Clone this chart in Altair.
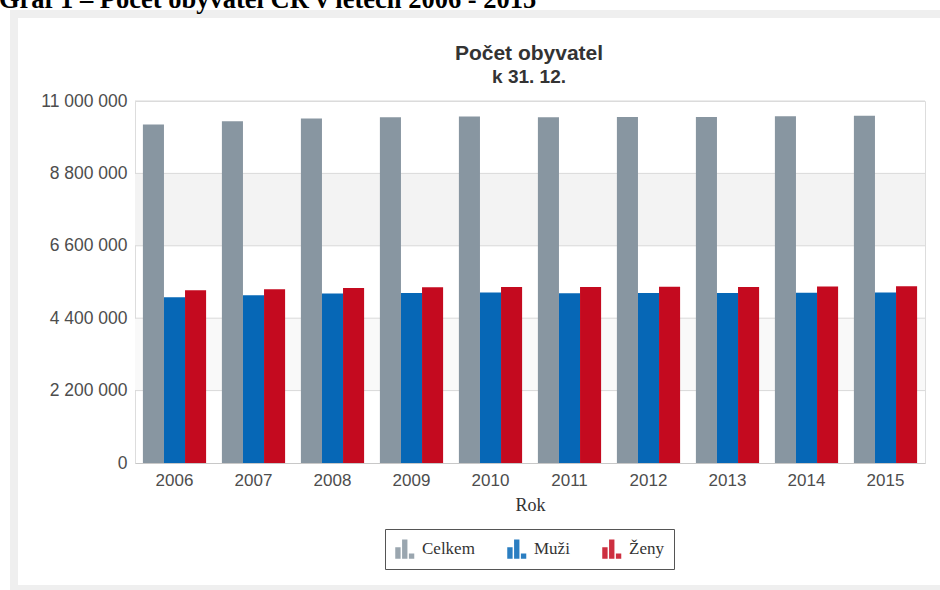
import altair as alt
import pandas as pd

# ---- data -------------------------------------------------------------
years = ["2006", "2007", "2008", "2009", "2010", "2011", "2012", "2013", "2014", "2015"]
celkem = [10287189, 10381130, 10467542, 10506813, 10532770, 10505445, 10516125, 10512419, 10538275, 10553843]
muzi = [5036000, 5100000, 5152000, 5168000, 5184000, 5158000, 5164000, 5162000, 5176000, 5184000]
zeny = [5251000, 5281000, 5316000, 5339000, 5349000, 5347000, 5352000, 5350000, 5362000, 5370000]
series = ["Celkem", "Muži", "Ženy"]
colors = ["#8896a1", "#0667b6", "#c40a1f"]
y_ticks = [0, 2200000, 4400000, 6600000, 8800000, 11000000]
band_strong = [6600000, 8800000]
band_light = [2200000, 4400000]
heading = "Graf 1 – Počet obyvatel ČR v letech 2006 - 2015"
title_text = "Počet obyvatel"
subtitle_text = "k 31. 12."

rows = []
for i, y in enumerate(years):
    rows.append({"year": y, "series": "Celkem", "value": celkem[i]})
    rows.append({"year": y, "series": "Muži", "value": muzi[i]})
    rows.append({"year": y, "series": "Ženy", "value": zeny[i]})
df = pd.DataFrame(rows)

W, H = 790, 362
PAD = {"left": 135, "top": 101, "right": 15, "bottom": 127}

label_expr = "replace(replace(format(datum.value, ','), ',', ' '), ',', ' ')"

yscale = alt.Scale(domain=[0, 11000000], nice=False, zero=True)
yaxis = alt.Axis(
    values=y_ticks, labelExpr=label_expr, grid=False, domain=False,
    ticks=False, title=None, labelPadding=8,
    labelFont="Liberation Sans", labelFontSize=17.5, labelColor="#4d4d4d",
)

# outer frame of the screenshot
frame = alt.Chart(pd.DataFrame({"a": [0]})).mark_rect(
    filled=False, stroke="#efefef", strokeWidth=8
).encode(
    x=alt.value(14 - PAD["left"]), x2=alt.value(960 - PAD["left"]),
    y=alt.value(14 - PAD["top"]), y2=alt.value(589 - PAD["top"]),
)

head = alt.Chart(pd.DataFrame({"t": [heading]})).mark_text(
    font="Liberation Serif", fontSize=26.5, fontWeight="bold", color="#000",
    align="left", baseline="alphabetic"
).encode(text="t:N", x=alt.value(-1 - PAD["left"]), y=alt.value(8 - PAD["top"]))

ttl = alt.Chart(pd.DataFrame({"t": [title_text]})).mark_text(
    font="Liberation Sans", fontSize=21, fontWeight="bold", color="#333",
    align="center", baseline="alphabetic"
).encode(text="t:N", x=alt.value(W / 2 - 1), y=alt.value(60 - PAD["top"]))

sub = alt.Chart(pd.DataFrame({"t": [subtitle_text]})).mark_text(
    font="Liberation Sans", fontSize=19, fontWeight="bold", color="#333",
    align="center", baseline="alphabetic"
).encode(text="t:N", x=alt.value(W / 2 - 1), y=alt.value(83 - PAD["top"]))

band1 = alt.Chart(pd.DataFrame({"lo": [band_strong[0]], "hi": [band_strong[1]]})).mark_rect(
    color="#f3f3f3"
).encode(
    y=alt.Y("lo:Q", scale=yscale, axis=yaxis), y2="hi:Q",
    x=alt.value(0), x2=alt.value(W),
)
band2 = alt.Chart(pd.DataFrame({"lo": [band_light[0]], "hi": [band_light[1]]})).mark_rect(
    color="#f9f9f9"
).encode(
    y=alt.Y("lo:Q", scale=yscale, axis=yaxis), y2="hi:Q",
    x=alt.value(0), x2=alt.value(W),
)

grid = alt.Chart(pd.DataFrame({"t": y_ticks[1:]})).mark_rule(
    color="#d9d9d9", strokeWidth=1
).encode(
    y=alt.Y("t:Q", scale=yscale, axis=yaxis),
    x=alt.value(0), x2=alt.value(W),
)

icon = "M-1,1V-0.2H-0.45V1Z M-0.3,1V-1H0.25V1Z M0.4,1V0.45H0.95V1Z"

bars = alt.Chart(df).mark_bar().encode(
    x=alt.X(
        "year:N", sort=years,
        scale=alt.Scale(paddingInner=0.2, paddingOuter=0.1),
        axis=alt.Axis(
            title="Rok", labelAngle=0, ticks=False, labelPadding=9,
            labelFont="Liberation Sans", labelFontSize=17, labelColor="#4d4d4d",
            titleFont="Liberation Serif", titleFontSize=18, titleFontWeight="normal",
            titleColor="#333", titlePadding=8, domainColor="#c8c8c8", grid=False,
        ),
    ),
    xOffset=alt.XOffset("series:N", sort=series,
                        scale=alt.Scale(paddingInner=0, paddingOuter=0)),
    y=alt.Y("value:Q", scale=yscale, axis=yaxis),
    color=alt.Color(
        "series:N", sort=series,
        scale=alt.Scale(domain=series, range=colors),
        legend=alt.Legend(
            title=None, orient="none", legendX=250, legendY=428,
            direction="horizontal", symbolType=icon, symbolSize=380,
            symbolStrokeWidth=0, symbolOpacity=0.85,
            labelFont="Liberation Serif", labelFontSize=17, labelColor="#333",
            labelOffset=7, columnPadding=32, padding=10,
            strokeColor="#555", fillColor="white",
        ),
    ),
)

chart = alt.layer(frame, head, ttl, sub, band2, band1, grid, bars).properties(
    width=W, height=H,
    autosize=alt.AutoSizeParams(type="none"),
    padding=PAD,
).configure(background="white").configure_view(stroke="#dddddd")

chart.save("out.html", embed_options={"renderer": "svg", "actions": False})
